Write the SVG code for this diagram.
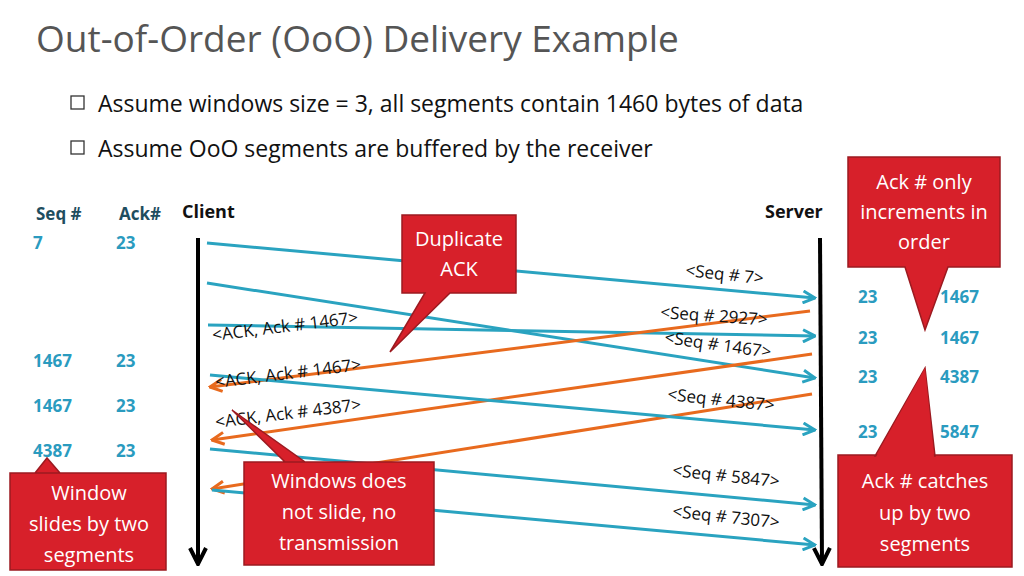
<svg xmlns="http://www.w3.org/2000/svg" width="1024" height="576" viewBox="0 0 1024 576">
<style>
text{font-family:"Open Sans","DejaVu Sans",sans-serif}
.t{font-size:37px;fill:#555}
.b{font-size:23px;fill:#111}
.h{font-size:17px;font-weight:bold;fill:#1f4e5f}
.v{font-size:17px;font-weight:bold;fill:#2a9bbf}
.n{font-size:18px;font-weight:bold;fill:#111}
.lb{font-size:17px;fill:#111}
.blue{stroke:#2aa3c0;stroke-width:3;fill:none;marker-end:url(#ab)}
.org{stroke:#e86a1e;stroke-width:3;fill:none;marker-end:url(#ao)}
.c{fill:#d7202a;stroke:#9c1a20;stroke-width:1.5}
.ct{font-size:20px;fill:#fff;text-anchor:middle}
</style>
<defs>
<marker id="ab" viewBox="0 0 10 10" refX="9" refY="5" markerWidth="5" markerHeight="5" orient="auto"><path d="M1,1 L9,5 L1,9" fill="none" stroke="#2aa3c0" stroke-width="2"/></marker>
<marker id="ao" viewBox="0 0 10 10" refX="9" refY="5" markerWidth="5" markerHeight="5" orient="auto"><path d="M1,1 L9,5 L1,9" fill="none" stroke="#e86a1e" stroke-width="2"/></marker>
<marker id="ak" viewBox="0 0 10 10" refX="9" refY="5" markerWidth="5" markerHeight="5" orient="auto"><path d="M1,1 L9,5 L1,9" fill="none" stroke="#000" stroke-width="2"/></marker>
</defs>
<text class="t" x="36" y="52">Out-of-Order (OoO) Delivery Example</text>
<rect x="71" y="96" width="13" height="13" fill="none" stroke="#333" stroke-width="1.3"/>
<text class="b" x="98" y="112">Assume windows size = 3, all segments contain 1460 bytes of data</text>
<rect x="71" y="141" width="13" height="13" fill="none" stroke="#333" stroke-width="1.3"/>
<text class="b" x="98" y="157">Assume OoO segments are buffered by the receiver</text>
<text class="h" x="36" y="220">Seq #</text><text class="h" x="119" y="220">Ack#</text>
<text class="n" x="182" y="218">Client</text><text class="n" x="765" y="218">Server</text>
<g id="leftvals">
<text class="v" x="33" y="249">7</text><text class="v" x="116" y="249">23</text>
<text class="v" x="33" y="367">1467</text><text class="v" x="116" y="367">23</text>
<text class="v" x="33" y="412">1467</text><text class="v" x="116" y="412">23</text>
<text class="v" x="33" y="457">4387</text><text class="v" x="116" y="457">23</text>
</g>
<g id="rightvals">
<text class="v" x="858" y="303">23</text><text class="v" x="940" y="303">1467</text>
<text class="v" x="858" y="344">23</text><text class="v" x="940" y="344">1467</text>
<text class="v" x="858" y="383">23</text><text class="v" x="940" y="383">4387</text>
<text class="v" x="858" y="438">23</text><text class="v" x="940" y="438">5847</text>
</g>
<g id="lifelines" stroke="#000" stroke-width="4" marker-end="url(#ak)">
<line x1="198" y1="238" x2="198" y2="564"/>
<line x1="820" y1="238" x2="822" y2="564"/>
</g>
<g id="connectors">
<line class="blue" x1="207" y1="243" x2="815" y2="298"/>
<line class="blue" x1="207" y1="283" x2="815" y2="378"/>
<line class="blue" x1="208" y1="325" x2="815" y2="336"/>
<line class="org" x1="810" y1="311" x2="210" y2="387"/>
<line class="org" x1="812" y1="354" x2="212" y2="440"/>
<line class="org" x1="812" y1="394" x2="212" y2="489"/>
<line class="blue" x1="210" y1="375" x2="815" y2="430"/>
<line class="blue" x1="210" y1="449" x2="815" y2="505"/>
<line class="blue" x1="212" y1="490" x2="815" y2="545"/>
</g>
<g id="labels" class="lb">
<text class="lb" transform="translate(685,276) rotate(6)">&lt;Seq # 7&gt;</text>
<text class="lb" transform="translate(660,318) rotate(4)">&lt;Seq # 2927&gt;</text>
<text class="lb" transform="translate(664,343) rotate(8)">&lt;Seq # 1467&gt;</text>
<text class="lb" transform="translate(667,400) rotate(6)">&lt;Seq # 4387&gt;</text>
<text class="lb" transform="translate(672,476) rotate(6)">&lt;Seq # 5847&gt;</text>
<text class="lb" transform="translate(672,517) rotate(6)">&lt;Seq # 7307&gt;</text>
<text class="lb" transform="translate(213,341) rotate(-7)">&lt;ACK, Ack # 1467&gt;</text>
<text class="lb" transform="translate(216,388) rotate(-7)">&lt;ACK, Ack # 1467&gt;</text>
<text class="lb" transform="translate(216,428) rotate(-7)">&lt;ACK, Ack # 4387&gt;</text>
</g>
<g id="callout-dup"><path class="c" d="M402,215 H516 V293 H450 L390,352 L425,293 H402 Z"/><text class="ct" x="459" y="246">Duplicate</text><text class="ct" x="459" y="276">ACK</text></g>
<g id="callout-only"><path class="c" d="M848,157 H1000 V267 H948 L925,330 L905,267 H848 Z"/><text class="ct" x="924" y="189">Ack # only</text><text class="ct" x="924" y="219">increments in</text><text class="ct" x="924" y="249">order</text></g>
<g id="callout-win"><path class="c" d="M244,462 H434 V565 H244 V462 H305 L232,410 L285,462 Z"/><text class="ct" x="339" y="488">Windows does</text><text class="ct" x="339" y="519">not slide, no</text><text class="ct" x="339" y="550">transmission</text></g>
<g id="callout-catch"><path class="c" d="M838,455 H1012 V567 H838 Z M875,456 L925,368 L935,456 Z"/><path d="M876,457 L925,368 L934,457" fill="#d7202a" stroke="none"/><text class="ct" x="925" y="488">Ack # catches</text><text class="ct" x="925" y="520">up by two</text><text class="ct" x="925" y="551">segments</text></g>
<g id="callout-slide"><path class="c" d="M10,473 H166 V570 H10 V473 H35 L47,458 L60,473 Z"/><text class="ct" x="89" y="500">Window</text><text class="ct" x="89" y="531">slides by two</text><text class="ct" x="89" y="562">segments</text></g>
</svg>
